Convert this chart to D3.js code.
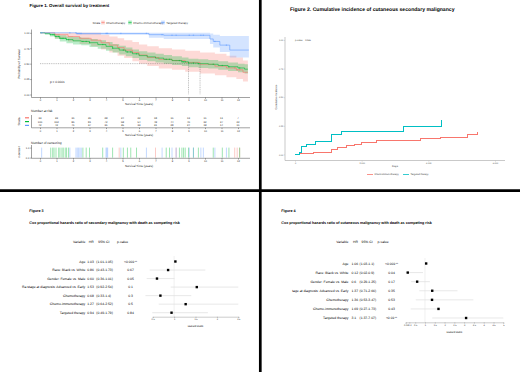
<!DOCTYPE html>
<html>
<head>
<meta charset="utf-8">
<script src="https://cdn.jsdelivr.net/npm/d3@7"></script>
<style>
  body { margin: 0; background: #fff; }
  svg { display: block; font-family: "Liberation Sans", Arial, sans-serif; }
  svg text { text-rendering: geometricPrecision; }
</style>
</head>
<body>
<svg width="520" height="372"></svg>
<script>
// ---- Figure 1 data: Kaplan-Meier steps (years, survival, lower CI, upper CI)
var chemoT = [0, 0.9, 1.7, 2.4, 3.1, 3.7, 4.2, 4.7, 5.1, 5.6, 6.0, 6.5, 7.2, 8.0, 8.8, 9.7, 10.6, 11.3, 11.9, 12.3, 12.6];
var chemoS = [1, 0.97, 0.94, 0.91, 0.88, 0.84, 0.80, 0.76, 0.72, 0.68, 0.64, 0.60, 0.57, 0.55, 0.52, 0.49, 0.46, 0.43, 0.40, 0.36, 0.36];
var chemoL = [1, 0.91, 0.86, 0.82, 0.78, 0.73, 0.68, 0.63, 0.59, 0.54, 0.50, 0.46, 0.42, 0.40, 0.37, 0.34, 0.31, 0.28, 0.25, 0.21, 0.21];
var chemoU = [1, 1, 1, 1, 1, 0.97, 0.94, 0.91, 0.88, 0.85, 0.81, 0.78, 0.75, 0.73, 0.71, 0.68, 0.66, 0.63, 0.60, 0.55, 0.55];

var ciT = [0, 0.3, 0.6, 0.9, 1.2, 1.6, 2.0, 2.5, 3.0, 3.5, 4.0, 4.4, 4.8, 5.2, 5.6, 6.0, 6.5, 7.0, 7.5, 8.0, 8.6, 9.0, 9.6, 10.2, 10.8, 11.4, 12.0, 12.4, 12.6];
var ciS = [1, 0.99, 0.97, 0.94, 0.91, 0.89, 0.87, 0.86, 0.84, 0.81, 0.78, 0.75, 0.72, 0.69, 0.66, 0.63, 0.61, 0.59, 0.57, 0.55, 0.53, 0.51, 0.50, 0.49, 0.47, 0.45, 0.43, 0.41, 0.41];
var ciL = [1, 0.97, 0.94, 0.90, 0.86, 0.83, 0.81, 0.80, 0.77, 0.74, 0.71, 0.68, 0.65, 0.62, 0.59, 0.56, 0.54, 0.52, 0.50, 0.48, 0.46, 0.44, 0.43, 0.42, 0.40, 0.38, 0.36, 0.34, 0.34];
var ciU = [1, 1, 1, 0.98, 0.96, 0.94, 0.93, 0.92, 0.90, 0.88, 0.85, 0.82, 0.79, 0.76, 0.73, 0.70, 0.68, 0.66, 0.64, 0.62, 0.60, 0.58, 0.57, 0.56, 0.54, 0.52, 0.50, 0.49, 0.49];

var tgT = [0, 1.2, 2.2, 6.6, 7.5, 8.2, 10.3, 10.5, 10.9, 11.5, 12.66];
var tgS = [1, 1, 0.99, 0.97, 0.96, 0.96, 0.90, 0.86, 0.80, 0.72, 0.72];
var tgL = [1, 1, 0.97, 0.92, 0.90, 0.90, 0.82, 0.76, 0.69, 0.60, 0.60];
var tgU = [1, 1, 1, 1, 1, 1, 0.99, 0.97, 0.95, 0.95, 0.95];

var medianYears = [9.0, 9.7];

var chemoCens = [4.8, 7.0, 8.25, 11.8, 11.95, 12.1];
var ciCens = [0.65, 0.77, 0.85, 0.97, 1.13, 1.21, 1.33, 1.41, 1.53, 1.61, 1.73, 2.6, 2.8, 3.0, 3.8, 4.4, 5.05, 5.3, 5.5, 5.85, 7.65, 7.85, 8.45, 8.6, 8.7, 8.8, 9.0, 9.3, 9.6, 10.5, 11.05, 11.45, 12.1];
var tgCens = [0.1, 1.81, 2.18, 2.26, 2.34, 2.42, 2.5, 4.0, 4.05, 4.1, 4.9, 6.45, 7.4, 8.0, 8.25, 9.05, 9.3, 9.75, 9.9, 10.6, 11.3];

var riskYears = [0, 1, 2, 3, 4, 5, 6, 7, 8, 9, 10, 11, 12];
var chemoRisk = [33, 33, 31, 30, 29, 24, 22, 18, 16, 13, 11, 11, 7];
var ciRisk = [110, 102, 96, 81, 72, 59, 54, 49, 44, 40, 32, 27, 22];
var tgRisk = [42, 42, 41, 37, 36, 35, 33, 31, 28, 24, 19, 14, 11];

var survTicks = [0, 0.25, 0.5, 0.75, 1];
var survTickLabels = ["0.00", "0.25", "0.50", "0.75", "1.00"];

// ---- Figure 2 data: cumulative incidence (days, incidence)
var cimDays = [0, 130, 550, 1100, 1270, 1550, 1780, 2000, 2450, 3750, 4350, 5170, 5470];
var cimInc = [0, 0.01, 0.02, 0.045, 0.06, 0.075, 0.09, 0.10, 0.123, 0.136, 0.15, 0.175, 0.20];
var tgtDays = [0, 130, 200, 350, 600, 1080, 1380, 3250, 4380];
var tgtInc = [0, 0.02, 0.07, 0.09, 0.11, 0.17, 0.20, 0.24, 0.30];
var dayTicks = [0, 2000, 4000, 6000];

// ---- Figure 3 data
var f3Vars = ["Age", "Race: Black vs. White", "Gender: Female vs. Male", "Ra stage at diagnosis: Advanced vs. Early", "Chemotherapy", "Chemo-immunotherapy", "Targeted therapy"];
var f3HR = [1.03, 0.86, 0.60, 1.53, 0.68, 1.27, 0.94];
var f3Lo = [1.01, 0.43, 0.36, 0.92, 0.33, 0.64, 0.49];
var f3Hi = [1.05, 1.73, 1.01, 2.54, 1.4, 2.52, 1.79];
var f3HRText = ["1.03", "0.86", "0.60", "1.53", "0.68", "1.27", "0.94"];
var f3CIText = ["(1.01-1.05)", "(0.43-1.73)", "(0.36-1.01)", "(0.92-2.54)", "(0.33-1.4)", "(0.64-2.52)", "(0.49-1.79)"];
var f3P = ["<0.001**", "0.67", "0.05", "0.1", "0.3", "0.5", "0.84"];
var f3Ticks = [0.5, 1, 1.5, 2, 2.5];

// ---- Figure 4 data
var f4Vars = ["Age", "Race: Black vs. White", "Gender: Female vs. Male", "tage at diagnosis: Advanced vs. Early", "Chemotherapy", "Chemo-immunotherapy", "Targeted therapy"];
var f4HR = [1.06, 0.12, 0.6, 1.37, 1.36, 1.69, 3.1];
var f4Lo = [1.03, 0.02, 0.29, 0.71, 0.53, 0.27, 1.37];
var f4Hi = [1.1, 0.9, 1.25, 2.66, 3.47, 1.73, 7.07];
var f4HRText = ["1.06", "0.12", "0.6", "1.37", "1.36", "1.69", "3.1"];
var f4CIText = ["(1.03-1.1)", "(0.02-0.9)", "(0.29-1.25)", "(0.71-2.66)", "(0.53-3.47)", "(0.27-1.73)", "(1.37-7.07)"];
var f4P = ["<0.001**", "0.04", "0.17", "0.35", "0.53", "0.43", "<0.01**"];
var f4Ticks = [0.02, 0.2, 0.5, 1, 1.5, 2, 2.5, 3, 3.5, 4, 4.5, 5];

var svg = d3.select("svg");

// small helper to restyle a d3 axis
function styleAxis(g, fs, lineColor, textColor) {
  g.attr("font-family", null);
  g.selectAll("path, line").attr("stroke", lineColor).attr("stroke-width", 0.5);
  g.selectAll("text").attr("font-size", fs).attr("fill", textColor);
}

// ================= Figure 1 =================
var f1 = svg.append("g");
f1.append("text").attr("x", 29.5).attr("y", 7.3).attr("font-size", 4.4).attr("font-weight", "bold")
  .text("Figure 1. Overall survival by treatment");

var x1 = d3.scaleLinear().domain([0, 12]).range([40, 238]);
var y1 = d3.scaleLinear().domain([0, 1]).range([94.5, 32.8]);

var strata = [
  {name: "Chemotherapy", color: "#F8766D", t: chemoT, s: chemoS, lo: chemoL, hi: chemoU, cens: chemoCens, risk: chemoRisk},
  {name: "Chemo-immunotherapy", color: "#00BA38", t: ciT, s: ciS, lo: ciL, hi: ciU, cens: ciCens, risk: ciRisk},
  {name: "Targeted therapy", color: "#619CFF", t: tgT, s: tgS, lo: tgL, hi: tgU, cens: tgCens, risk: tgRisk}
];

// legend
var lg = f1.append("g").attr("font-size", 2.9).attr("fill", "#333");
lg.append("text").attr("x", 92.5).attr("y", 23.5).text("Strata");
var legX = [101, 128, 161];
strata.forEach(function(st, i) {
  var k = lg.append("g").attr("transform", "translate(" + legX[i] + ",22.5)");
  k.append("rect").attr("x", 0).attr("y", -2).attr("width", 4).attr("height", 4).attr("fill", st.color).attr("fill-opacity", 0.25);
  k.append("line").attr("x1", 0.3).attr("x2", 3.7).attr("y1", 0).attr("y2", 0).attr("stroke", st.color).attr("stroke-width", 0.5);
  k.append("line").attr("x1", 2).attr("x2", 2).attr("y1", -1).attr("y2", 1).attr("stroke", st.color).attr("stroke-width", 0.4);
  lg.append("text").attr("x", legX[i] + 5.2).attr("y", 23.5).text(st.name);
});

// bands and curves
var band = d3.area().curve(d3.curveStepAfter)
  .x(function(d) { return x1(d.t); }).y0(function(d) { return y1(d.lo); }).y1(function(d) { return y1(d.hi); });
var km = d3.line().curve(d3.curveStepAfter)
  .x(function(d) { return x1(d.t); }).y(function(d) { return y1(d.s); });

strata.forEach(function(st) {
  var pts = st.t.map(function(t, i) { return {t: t, s: st.s[i], lo: st.lo[i], hi: st.hi[i]}; });
  f1.append("path").attr("d", band(pts)).attr("fill", st.color).attr("fill-opacity", 0.27);
  st.pts = pts;
});
// median reference lines
f1.append("line").attr("x1", x1(0)).attr("x2", x1(d3.max(medianYears))).attr("y1", y1(0.5)).attr("y2", y1(0.5))
  .attr("stroke", "#444").attr("stroke-width", 0.35).attr("stroke-dasharray", "1,0.8");
medianYears.forEach(function(m) {
  f1.append("line").attr("x1", x1(m)).attr("x2", x1(m)).attr("y1", y1(0.5)).attr("y2", y1(0))
    .attr("stroke", "#444").attr("stroke-width", 0.35).attr("stroke-dasharray", "1,0.8");
});
strata.forEach(function(st) {
  f1.append("path").attr("d", km(st.pts)).attr("fill", "none").attr("stroke", st.color).attr("stroke-width", 0.6);
  st.cens.forEach(function(c) {
    var i = Math.max(0, d3.bisectRight(st.t, c) - 1);
    f1.append("path").attr("transform", "translate(" + x1(c) + "," + y1(st.s[i]) + ")")
      .attr("d", "M-0.7,0H0.7M0,-0.7V0.7").attr("stroke", st.color).attr("stroke-width", 0.35);
  });
});

// axes
var ax1 = f1.append("g").attr("transform", "translate(0,97.5)")
  .call(d3.axisBottom(x1).tickValues(riskYears).tickSize(1.3).tickPadding(0.8));
ax1.select(".domain").attr("d", "M31.5,0H250");
styleAxis(ax1, 2.6, "#444", "#333");
var ay1 = f1.append("g").attr("transform", "translate(31.5,0)")
  .call(d3.axisLeft(y1).tickValues(survTicks).tickFormat(function(d, i) { return survTickLabels[i]; }).tickSize(1.3).tickPadding(0.8));
ay1.select(".domain").attr("d", "M0,29.5V97.5");
styleAxis(ay1, 2.6, "#444", "#333");
f1.append("text").attr("x", 139).attr("y", 105.3).attr("text-anchor", "middle").attr("font-size", 3).attr("fill", "#222")
  .text("Survival Time (years)");
f1.append("text").attr("transform", "translate(19.8,64) rotate(-90)").attr("text-anchor", "middle").attr("font-size", 3).attr("fill", "#222")
  .text("Probability of Survival");
f1.append("text").attr("x", 50).attr("y", 82.6).attr("font-size", 3.1).attr("fill", "#222").text("p < 0.0001");

// number at risk table
var rowY = d3.scalePoint().domain(strata.map(function(s) { return s.name; })).range([117.8, 125.4]);
f1.append("text").attr("x", 31).attr("y", 112.2).attr("font-size", 3.3).attr("fill", "#222").text("Number at risk");
strata.forEach(function(st) {
  f1.append("rect").attr("x", 25).attr("y", rowY(st.name) - 0.6).attr("width", 4).attr("height", 1.2).attr("fill", st.color);
  f1.selectAll(null).data(st.risk).enter().append("text")
    .attr("x", function(d, i) { return x1(riskYears[i]); })
    .attr("y", rowY(st.name) + 1)
    .attr("text-anchor", "middle").attr("font-size", 2.7).attr("fill", "#222")
    .text(function(d) { return d; });
});
var axr = f1.append("g").attr("transform", "translate(0,127.8)")
  .call(d3.axisBottom(x1).tickValues(riskYears).tickSize(1.3).tickPadding(0.8));
axr.select(".domain").attr("d", "M31.5,0H250");
styleAxis(axr, 2.6, "#444", "#333");
f1.append("line").attr("x1", 31.5).attr("x2", 31.5).attr("y1", 115).attr("y2", 127.8).attr("stroke", "#444").attr("stroke-width", 0.5);
f1.append("text").attr("x", 139).attr("y", 136).attr("text-anchor", "middle").attr("font-size", 3).attr("fill", "#222")
  .text("Survival Time (years)");
f1.append("text").attr("transform", "translate(19.8,121.5) rotate(-90)").attr("text-anchor", "middle").attr("font-size", 3).attr("fill", "#222")
  .text("Strata");

// number of censoring
var yc = d3.scaleLinear().domain([0, 1]).range([157.6, 147.6]);
f1.append("text").attr("x", 31).attr("y", 144.4).attr("font-size", 3.3).attr("fill", "#222").text("Number of censoring");
strata.forEach(function(st) {
  f1.selectAll(null).data(st.cens).enter().append("line")
    .attr("x1", function(d) { return x1(d); }).attr("x2", function(d) { return x1(d); })
    .attr("y1", yc(0)).attr("y2", yc(1))
    .attr("stroke", st.color).attr("stroke-width", 0.7).attr("stroke-opacity", 0.55);
});
var axc = f1.append("g").attr("transform", "translate(0,158.3)")
  .call(d3.axisBottom(x1).tickValues(riskYears).tickSize(1.3).tickPadding(0.8));
axc.select(".domain").attr("d", "M31.5,0H250");
styleAxis(axc, 2.6, "#444", "#333");
var ayc = f1.append("g").attr("transform", "translate(31.5,0)")
  .call(d3.axisLeft(yc).tickValues([0, 1]).tickSize(1.3).tickPadding(0.8));
ayc.select(".domain").attr("d", "M0,145V158.3");
styleAxis(ayc, 2.6, "#444", "#333");
f1.append("text").attr("x", 139).attr("y", 166.6).attr("text-anchor", "middle").attr("font-size", 3).attr("fill", "#222")
  .text("Survival Time (years)");
f1.append("text").attr("transform", "translate(19.8,152) rotate(-90)").attr("text-anchor", "middle").attr("font-size", 3).attr("fill", "#222")
  .text("n.censor");

// ================= Figure 2 =================
var f2 = svg.append("g");
f2.append("text").attr("x", 290).attr("y", 10.5).attr("font-size", 5.1).attr("font-weight", "bold")
  .text("Figure 2. Cumulative incidence of cutaneous secondary malignancy");

var x2 = d3.scaleLinear().domain([0, 6000]).range([295, 495]);
var y2 = d3.scaleLinear().domain([0, 1]).range([154.4, 40]);
var ax2 = f2.append("g").attr("transform", "translate(0,160.5)")
  .call(d3.axisBottom(x2).tickValues(dayTicks).tickSize(1.2).tickPadding(0.6));
ax2.select(".domain").attr("d", "M285,0H505");
styleAxis(ax2, 2.2, "#bbb", "#555");
ax2.select(".domain").attr("stroke-width", 0.8);
var ay2 = f2.append("g").attr("transform", "translate(285,0)")
  .call(d3.axisLeft(y2).tickValues(survTicks).tickFormat(function(d, i) { return survTickLabels[i]; }).tickSize(1.2).tickPadding(0.6));
ay2.select(".domain").attr("d", "M0,37V160.5");
styleAxis(ay2, 2.2, "#bbb", "#555");
ay2.select(".domain").attr("stroke-width", 0.8);
f2.append("text").attr("x", 395).attr("y", 167.3).attr("text-anchor", "middle").attr("font-size", 2.6).attr("fill", "#333").text("Days");
f2.append("text").attr("transform", "translate(276.5,97) rotate(-90)").attr("text-anchor", "middle").attr("font-size", 2.6).attr("fill", "#333")
  .text("Cumulative Incidence");
f2.append("text").attr("x", 295).attr("y", 40.8).attr("font-size", 2.3).attr("fill", "#333").text("p-value = 0.046");

var cif = d3.line().curve(d3.curveStepAfter)
  .x(function(d) { return x2(d[0]); }).y(function(d) { return y2(d[1]); });
var cifSeries = [
  {name: "Chemoimmunotherapy", color: "#F8766D", days: cimDays, inc: cimInc},
  {name: "Targeted therapy", color: "#00BFC4", days: tgtDays, inc: tgtInc}
];
cifSeries.forEach(function(s) {
  f2.append("path").attr("d", cif(s.days.map(function(d, i) { return [d, s.inc[i]]; })))
    .attr("fill", "none").attr("stroke", s.color).attr("stroke-width", 1).attr("shape-rendering", "crispEdges");
});
var cifLegX = [367, 403];
cifSeries.forEach(function(s, i) {
  f2.append("line").attr("x1", cifLegX[i]).attr("x2", cifLegX[i] + 6).attr("y1", 174.5).attr("y2", 174.5)
    .attr("stroke", s.color).attr("stroke-width", 0.8);
  f2.append("text").attr("x", cifLegX[i] + 7.5).attr("y", 175.4).attr("font-size", 2.4).attr("fill", "#333").text(s.name);
});

// ================= Figures 3 & 4 (forest plots) =================
function forest(o) {
  var g = svg.append("g");
  g.append("text").attr("x", o.left).attr("y", 211.8).attr("font-size", 3.7).attr("font-weight", "bold").text(o.title);
  g.append("text").attr("x", o.left).attr("y", 224).attr("font-size", 3.7).attr("font-weight", "bold").text(o.subtitle);

  var x = d3.scaleLinear().domain(o.domain).range(o.range);
  var y = d3.scalePoint().domain(o.vars).range(o.rows);
  var fs = 3.4;

  // header
  g.append("text").attr("x", o.colVar).attr("y", 243).attr("text-anchor", "end").attr("font-size", fs).text("Variable");
  g.append("text").attr("x", o.colHR + 1.5).attr("y", 243).attr("font-size", fs).text("HR");
  g.append("text").attr("x", o.colCI + 2).attr("y", 243).attr("font-size", fs).text("95% CI");
  g.append("text").attr("x", o.colPHead).attr("y", 243).attr("text-anchor", "middle").attr("font-size", fs).text("p-value");

  // reference line at HR = 1
  g.append("line").attr("x1", x(1)).attr("x2", x(1)).attr("y1", o.refTop).attr("y2", o.axisY)
    .attr("stroke", "#e4e4e4").attr("stroke-width", 0.6);

  o.vars.forEach(function(v, i) {
    var yy = y(v);
    g.append("text").attr("x", o.colVar).attr("y", yy + 1.2).attr("text-anchor", "end").attr("font-size", fs).text(v);
    g.append("text").attr("x", o.colHR).attr("y", yy + 1.2).attr("font-size", fs).text(o.hrText[i]);
    g.append("text").attr("x", o.colCI).attr("y", yy + 1.2).attr("font-size", fs).text(o.ciText[i]);
    g.append("text").attr("x", o.colP).attr("y", yy + 1.2).attr("text-anchor", "middle").attr("font-size", fs).text(o.p[i]);
    g.append("line").attr("x1", x(Math.max(o.lo[i], o.clipLo))).attr("x2", x(Math.min(o.hi[i], o.domain[1])))
      .attr("y1", yy).attr("y2", yy).attr("stroke", "#dedede").attr("stroke-width", 0.7);
    g.append("rect").attr("x", x(o.hr[i]) - 1.2).attr("y", yy - 1.2).attr("width", 2.4).attr("height", 2.4).attr("fill", "#000");
  });

  var ax = g.append("g").attr("transform", "translate(0," + o.axisY + ")")
    .call(d3.axisBottom(x).tickValues(o.ticks).tickFormat(d3.format("")).tickSize(1.3).tickPadding(0.8));
  styleAxis(ax, 2.3, "#999", "#333");
  g.append("text").attr("x", (o.range[0] + o.range[1]) / 2).attr("y", o.axisY + 10.6).attr("text-anchor", "middle")
    .attr("font-size", 2.7).text("Hazard Ratio");
}

forest({
  title: "Figure 3", subtitle: "Cox proportional hazards ratio of secondary malignancy with death as competing risk",
  left: 29.3, vars: f3Vars, hr: f3HR, lo: f3Lo, hi: f3Hi, hrText: f3HRText, ciText: f3CIText, p: f3P, ticks: f3Ticks,
  domain: [0.5, 2.5], range: [152.7, 238.3], clipLo: 0, rows: [261.5, 312.7], axisY: 316.7, refTop: 256,
  colVar: 85.3, colHR: 87.3, colCI: 96.3, colP: 130.5, colPHead: 122.5
});

forest({
  title: "Figure 4", subtitle: "Cox proportional hazards ratio of cutaneous malignancy with death as competing risk",
  left: 281.3, vars: f4Vars, hr: f4HR, lo: f4Lo, hi: f4Hi, hrText: f4HRText, ciText: f4CIText, p: f4P, ticks: f4Ticks,
  domain: [0, 5], range: [405.4, 503.3], clipLo: 0, rows: [263.5, 318], axisY: 322.3, refTop: 258,
  colVar: 348.5, colHR: 351.5, colCI: 359.5, colP: 391.5, colPHead: 383
});

// ================= panel dividers =================
svg.append("line").attr("x1", 0).attr("x2", 520).attr("y1", 190.7).attr("y2", 190.7).attr("stroke", "#000").attr("stroke-width", 2.7);
svg.append("line").attr("x1", 260.3).attr("x2", 260.3).attr("y1", 0).attr("y2", 372).attr("stroke", "#000").attr("stroke-width", 2.7);
</script>
</body>
</html>
